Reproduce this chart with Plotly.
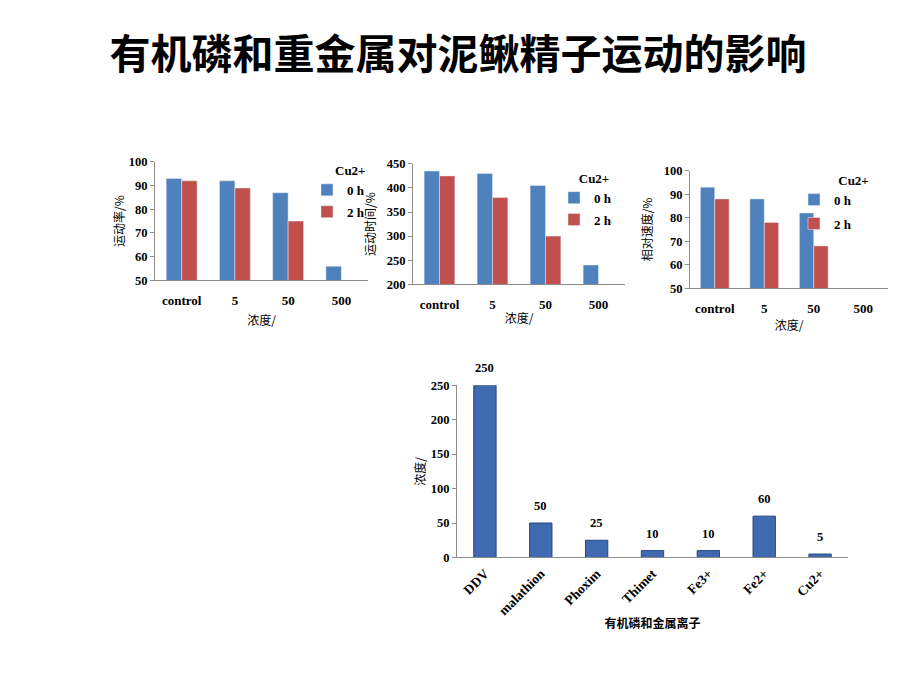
import plotly.graph_objects as go

# ---- data ----
conc_labels = ["control", "5", "50", "500"]
rate_0h = [93, 92, 87, 56]
rate_2h = [92, 89, 75, None]
time_0h = [435, 430, 405, 240]
time_2h = [425, 380, 300, None]
speed_0h = [93, 88, 82, None]
speed_2h = [88, 78, 68, None]
series_names = ["0 h", "2 h"]
legend_title = "Cu2+"

agents = ["DDV", "malathion", "Phoxim", "Thimet", "Fe3+", "Fe2+", "Cu2+"]
agent_conc = [250, 50, 25, 10, 10, 60, 5]

title_text = "有机磷和重金属对泥鳅精子运动的影响"

BLUE = "#4F81BD"
RED = "#C0504D"
BAR4 = "#3F6AAF"
SERIF = "Liberation Serif"
CJK = "Noto Sans CJK SC"
OFF = 8            # page body margin
W, H = 920, 690    # page size
FW, FH = W - 2 * OFF, H - 2 * OFF

def px_x(a, b):
    return [(a - OFF) / FW, (b - OFF) / FW]

def px_y(top, bottom):
    return [1 - (bottom - OFF) / FH, 1 - (top - OFF) / FH]

def pxx(a):
    return (a - OFF) / FW

def pxy(b):
    return 1 - (b - OFF) / FH

fig = go.Figure()

panels = [
    dict(xa="x", ya="y", leg="legend", v0=rate_0h, v2=rate_2h),
    dict(xa="x2", ya="y2", leg="legend2", v0=time_0h, v2=time_2h),
    dict(xa="x3", ya="y3", leg="legend3", v0=speed_0h, v2=speed_2h),
]
for p in panels:
    fig.add_trace(go.Bar(x=conc_labels, y=p["v0"], name=series_names[0], marker_color=BLUE,
                         xaxis=p["xa"], yaxis=p["ya"], legend=p["leg"], legendgroup=p["leg"] + "a"))
    fig.add_trace(go.Bar(x=conc_labels, y=p["v2"], name=series_names[1], marker_color=RED,
                         xaxis=p["xa"], yaxis=p["ya"], legend=p["leg"], legendgroup=p["leg"] + "b"))

fig.add_trace(go.Bar(x=agents, y=agent_conc, marker=dict(color=BAR4, line=dict(color="#24487F", width=1)),
                     width=0.4, xaxis="x4", yaxis="y4", showlegend=False))

xtick_font = dict(family=SERIF, size=13, color="black", weight="bold")
ytick_font = dict(family=SERIF, size=12.5, color="black", weight="bold")
xtick_font4 = dict(family=SERIF, size=13.5, color="black", weight="bold")
cjk_font = dict(family=CJK, size=12, color="black")
axis_line = dict(showline=True, linecolor="#8C8C8C", linewidth=1, showgrid=False, zeroline=False)

def xax(domain, anchor, title, standoff=6, lso=8, angle=None, tfont=cjk_font, tickf=xtick_font):
    d = dict(domain=domain, anchor=anchor, type="category", ticks="", tickfont=tickf,
             title=dict(text=title, font=tfont, standoff=standoff), ticklabelstandoff=lso, **axis_line)
    if angle is not None:
        d["tickangle"] = angle
    return d

def yax(domain, anchor, title, rng, dtick, standoff=6, tickf=ytick_font):
    return dict(domain=domain, anchor=anchor, range=rng, dtick=dtick, ticks="outside", ticklen=4,
                tickcolor="#8C8C8C", tickfont=tickf,
                title=dict(text=title, font=cjk_font, standoff=standoff), **axis_line)

def legend_cfg(left, top, pad, gap):
    return dict(x=pxx(left), y=pxy(top), xanchor="left", yanchor="top",
                font=dict(family=SERIF, size=13, color="black", weight="bold"),
                bgcolor="rgba(0,0,0,0)", traceorder="grouped", tracegroupgap=gap, itemwidth=30,
                title=dict(text="&nbsp;" * pad + legend_title,
                           font=dict(family=SERIF, size=13, color="black", weight="bold")))

fig.update_layout(
    width=FW, height=FH, margin=dict(l=0, r=0, t=0, b=0),
    paper_bgcolor="white", plot_bgcolor="white",
    barmode="group", bargap=0.42, bargroupgap=0,
    title=dict(text=title_text, x=pxx(458), xanchor="center", y=pxy(55), yanchor="middle",
               font=dict(family=CJK, size=41, color="black", weight="bold")),
    xaxis=xax(px_x(155, 368), "y", "浓度/", standoff=9),
    yaxis=yax(px_y(158, 279), "x", "运动率/%", [50, 100], 10, standoff=1),
    xaxis2=xax(px_x(413, 625), "y2", "浓度/", standoff=3),
    yaxis2=yax(px_y(160, 283), "x2", "运动时间/%", [200, 450], 50, standoff=8),
    xaxis3=xax(px_x(690, 888), "y3", "浓度/", standoff=6),
    yaxis3=yax(px_y(167, 287), "x3", "相对速度/%", [50, 100], 10, standoff=8),
    xaxis4=xax(px_x(457, 848), "y4", "有机磷和金属离子", standoff=2, lso=2, angle=-45,
               tfont=dict(family=CJK, size=12, color="black", weight="bold"), tickf=xtick_font4),
    yaxis4=yax(px_y(386, 562), "x4", "浓度/", [0, 250], 50, standoff=2),
    legend=legend_cfg(307, 154, 8, 2),
    legend2=legend_cfg(554, 162, 7, 2),
    legend3=legend_cfg(794, 164, 13, 4),
)

for a, v in zip(agents, agent_conc):
    fig.add_annotation(x=a, y=v, xref="x4", yref="y4", text=str(v), showarrow=False,
                       yshift=17, font=ytick_font)

fig.write_html("out.html")
